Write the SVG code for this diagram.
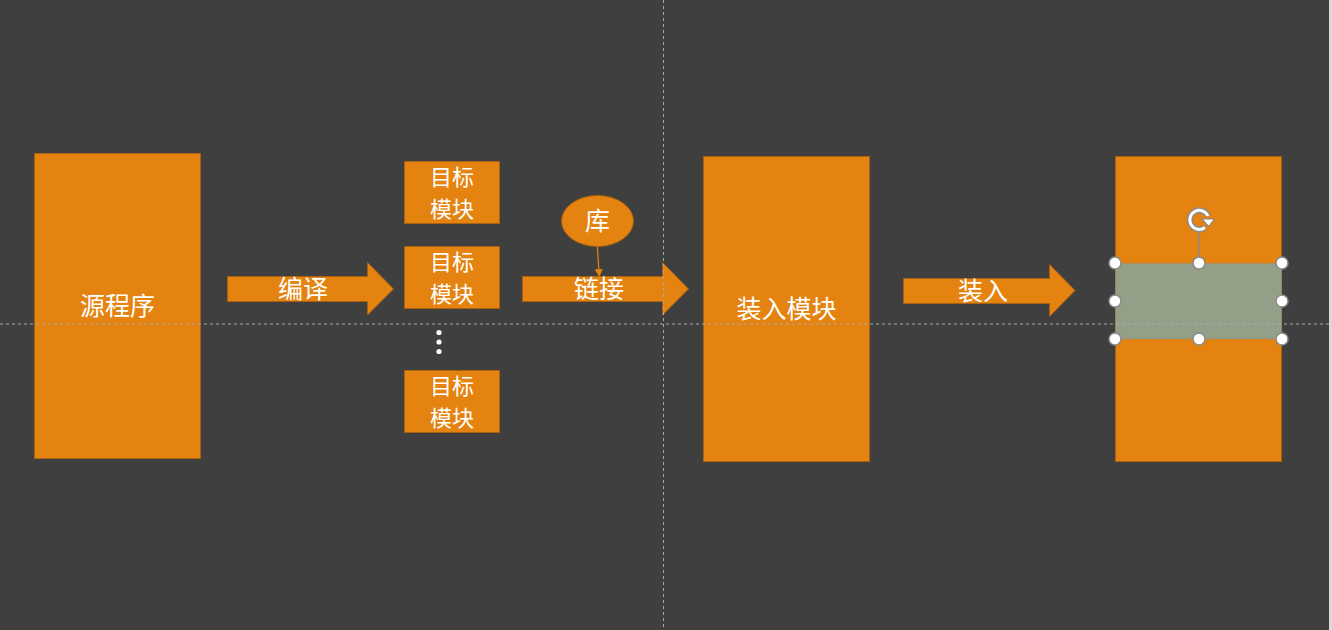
<svg xmlns="http://www.w3.org/2000/svg" width="1332" height="630" viewBox="0 0 1332 630">
<style>
.box{fill:#E4830F;stroke:#A9600F;stroke-width:1}
.t{fill:#ffffff;font-family:"Noto Sans CJK SC","Noto Sans",sans-serif;font-size:25px;text-anchor:middle}
.t2{font-size:22px}
.guide{stroke:#a8a8a8;stroke-width:1;stroke-dasharray:3 3;fill:none}
.h{fill:#ffffff;stroke:#8a8a8a;stroke-width:1.5}
</style>
<defs>
<marker id="ah" viewBox="0 0 10 10" refX="10" refY="5" markerWidth="8" markerHeight="8" markerUnits="userSpaceOnUse" orient="auto">
<path d="M0,0 L10,5 L0,10 z" fill="#E4830F" stroke="#A9600F" stroke-width="0.5"/>
</marker>
</defs>
<rect width="1332" height="630" fill="#3F3F3F"/>
<rect x="1329" y="0" width="3" height="630" fill="#d9d9d9"/>

<g id="source">
<rect class="box" x="34.5" y="153.5" width="166" height="305"/>
<text class="t" x="117.5" y="315">源程序</text>
</g>

<g id="compile">
<path class="box" d="M227.5,276.5 H367.5 V262.5 L393.5,289 L367.5,315 V301.5 H227.5 Z"/>
<text class="t" x="303" y="298">编译</text>
</g>

<g id="target1">
<rect class="box" x="404.5" y="161.5" width="95" height="62"/>
<text class="t t2" x="452" y="184.5"><tspan x="452" y="184.5">目标</tspan><tspan x="452" y="216.5">模块</tspan></text>
</g>
<g id="target2">
<rect class="box" x="404.5" y="246.5" width="95" height="62"/>
<text class="t t2" x="452" y="269.5"><tspan x="452" y="269.5">目标</tspan><tspan x="452" y="301.5">模块</tspan></text>
</g>
<g id="dots" fill="#ffffff">
<circle cx="439" cy="332.5" r="2.6"/>
<circle cx="439" cy="342" r="2.6"/>
<circle cx="439" cy="351.5" r="2.6"/>
</g>
<g id="target3">
<rect class="box" x="404.5" y="370.5" width="95" height="62"/>
<text class="t t2" x="452" y="393.5"><tspan x="452" y="393.5">目标</tspan><tspan x="452" y="425.5">模块</tspan></text>
</g>

<g id="library">
<ellipse class="box" cx="597.5" cy="221" rx="36" ry="25.5"/>
<text class="t" x="597.5" y="230">库</text>
</g>

<g id="link">
<path class="box" d="M522.5,276.5 H662.5 V262.5 L688.5,289 L662.5,315 V301.5 H522.5 Z"/>
<text class="t" x="599" y="298">链接</text>
</g>

<g id="connectors">
<line x1="597.3" y1="246.5" x2="599.3" y2="277" stroke="#E4830F" stroke-width="1.2" marker-end="url(#ah)"/>
</g>

<g id="loadmodule">
<rect class="box" x="703.5" y="156.5" width="166" height="305"/>
<text class="t" x="786.5" y="318">装入模块</text>
</g>

<g id="load">
<path class="box" d="M903.5,278.5 H1049.5 V264.5 L1075,290.5 L1049.5,316.5 V303.5 H903.5 Z"/>
<text class="t" x="983" y="300">装入</text>
</g>

<g id="memory">
<rect class="box" x="1115.5" y="156.5" width="166" height="305"/>
<rect x="1115.5" y="263.5" width="166" height="75.5" fill="#949F88" stroke="#8a8a8a" stroke-width="1" stroke-dasharray="1 1.5"/>
</g>

<g id="guides">
<line class="guide" x1="0" y1="324" x2="1329" y2="324"/>
<line class="guide" x1="663.5" y1="0" x2="663.5" y2="630"/>
</g>

<g id="selection">
<line x1="1199" y1="231" x2="1199" y2="263" stroke="#8a8a8a" stroke-width="1.5"/>
<path d="M1208,216 A9.5,9.5 0 1 0 1205,227.5" fill="none" stroke="#8a8a8a" stroke-width="6"/>
<path d="M1208,216 A9.5,9.5 0 1 0 1205,227.5" fill="none" stroke="#ffffff" stroke-width="3"/>
<path d="M1202,219 L1214.5,219 L1208.5,226.5 Z" fill="#ffffff" stroke="#8a8a8a" stroke-width="1.2" stroke-linejoin="round"/>
<circle class="h" cx="1115" cy="263" r="6"/>
<circle class="h" cx="1199" cy="263" r="6"/>
<circle class="h" cx="1282" cy="263" r="6"/>
<circle class="h" cx="1115" cy="301" r="6"/>
<circle class="h" cx="1282" cy="301" r="6"/>
<circle class="h" cx="1115" cy="339" r="6"/>
<circle class="h" cx="1199" cy="339" r="6"/>
<circle class="h" cx="1282" cy="339" r="6"/>
</g>
</svg>
